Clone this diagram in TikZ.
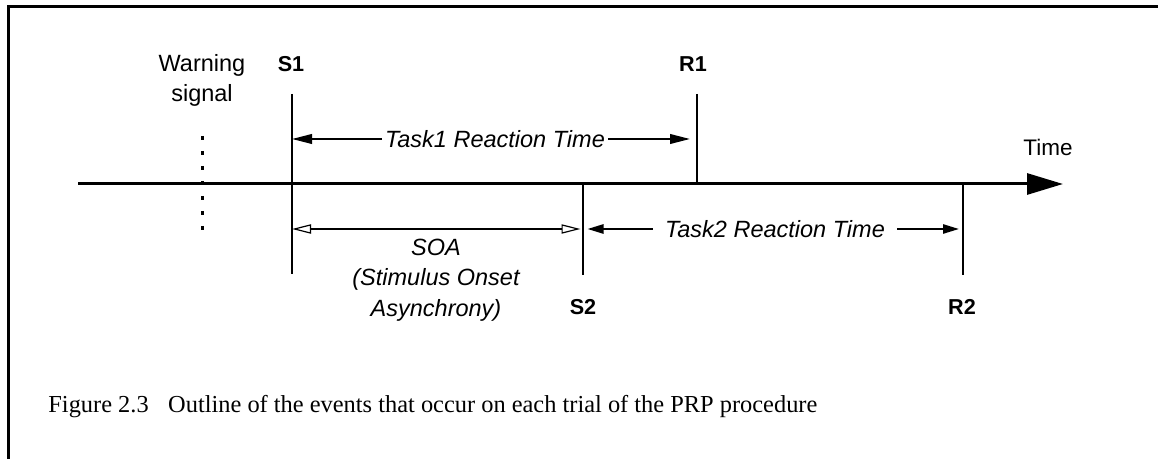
\documentclass[tikz,border=0pt]{standalone}
\usepackage{fontspec}
\setsansfont{Liberation Sans}
\newfontfamily\captionserif{Liberation Serif}
\usetikzlibrary{arrows.meta}

\begin{document}
\begin{tikzpicture}[x=0.5pt,y=-0.5pt,
  lbl/.style={font=\sffamily\fontsize{11.75pt}{15pt}\selectfont, inner sep=0pt, align=center},
  evt/.style={font=\sffamily\bfseries\fontsize{10.8pt}{13pt}\selectfont, inner sep=0pt},
  span/.style={font=\sffamily\itshape\fontsize{11.75pt}{15.2pt}\selectfont, inner sep=0pt, align=center},
  onspan/.style={span, fill=white, inner xsep=1.5pt, inner ysep=1pt},
  marker/.style={line width=1pt},
  axis/.style={line width=1.5pt, -{Triangle[length=18pt,width=10.5pt]}},
  bigrt/.style={line width=1pt, {Triangle[length=10pt,width=4.8pt]}-{Triangle[length=10pt,width=4.8pt]}},
  smallrt/.style={line width=1pt, {Triangle[length=8pt,width=4.6pt]}-{Triangle[length=8pt,width=4.6pt]}},
  soa/.style={line width=1pt, {Triangle[open,length=9.5pt,width=4.6pt,line width=0.6pt]}-{Triangle[open,length=9.5pt,width=4.6pt,line width=0.6pt]}},
  warn/.style={line width=1.5pt, dash pattern=on 2pt off 5.5pt}]

\useasboundingbox (0,0) rectangle (1158,459);

% page frame
\coordinate (frameBL) at (8.5,459);
\coordinate (frameTL) at (8.5,6.5);
\coordinate (frameTR) at (1158,6.5);
\draw[line width=1.5pt] (frameBL) -- (frameTL) -- (frameTR);

% time axis
\coordinate (axisStart) at (78,184);
\coordinate (axisEnd) at (1063,184);
\draw[axis] (axisStart) -- (axisEnd);
\node[lbl, font=\sffamily\fontsize{11.25pt}{14pt}\selectfont] (timeLbl) at (1048,147) {Time};

% warning signal
\coordinate (warnTop) at (202,136);
\coordinate (warnBot) at (202,231);
\draw[warn] (warnTop) -- (warnBot);
\node[lbl] (warnLbl) at (202,80) {Warning\\signal};

% event markers
\coordinate (s1Top) at (292,94);
\coordinate (s1Bot) at (292,274);
\coordinate (r1Top) at (697,94);
\coordinate (r1Bot) at (697,184);
\coordinate (s2Top) at (583,184);
\coordinate (s2Bot) at (583,275);
\coordinate (r2Top) at (963,184);
\coordinate (r2Bot) at (963,275);
\draw[marker] (s1Top) -- (s1Bot);
\draw[marker] (r1Top) -- (r1Bot);
\draw[marker] (s2Top) -- (s2Bot);
\draw[marker] (r2Top) -- (r2Bot);

\node[evt] (s1Lbl) at (291,64) {S1};
\node[evt] (r1Lbl) at (693,64) {R1};
\node[evt] (s2Lbl) at (583,307) {S2};
\node[evt] (r2Lbl) at (962,307) {R2};

% task 1 reaction time
\coordinate (rt1L) at (292,139);
\coordinate (rt1R) at (690,139);
\draw[bigrt] (rt1L) -- (rt1R);
\node[onspan] (rt1Lbl) at (495,139) {Task1 Reaction Time};

% stimulus onset asynchrony
\coordinate (soaL) at (292,229);
\coordinate (soaR) at (580.5,229);
\draw[soa] (soaL) -- (soaR);
\node[span] (soaLbl) at (436,280) {SOA\\(Stimulus Onset\\Asynchrony)};

% task 2 reaction time
\coordinate (rt2L) at (587.5,229);
\coordinate (rt2R) at (959,229);
\draw[smallrt] (rt2L) -- (rt2R);
\node[onspan, inner xsep=6pt] (rt2Lbl) at (775,229) {Task2 Reaction Time};

% caption
\node[anchor=base west, inner sep=0pt, font=\captionserif\fontsize{12.2pt}{14pt}\selectfont] (caption) at (48,413)
  {Figure 2.3\hspace{0.8em}Outline of the events that occur on each trial of the PRP procedure};

\end{tikzpicture}
\end{document}
